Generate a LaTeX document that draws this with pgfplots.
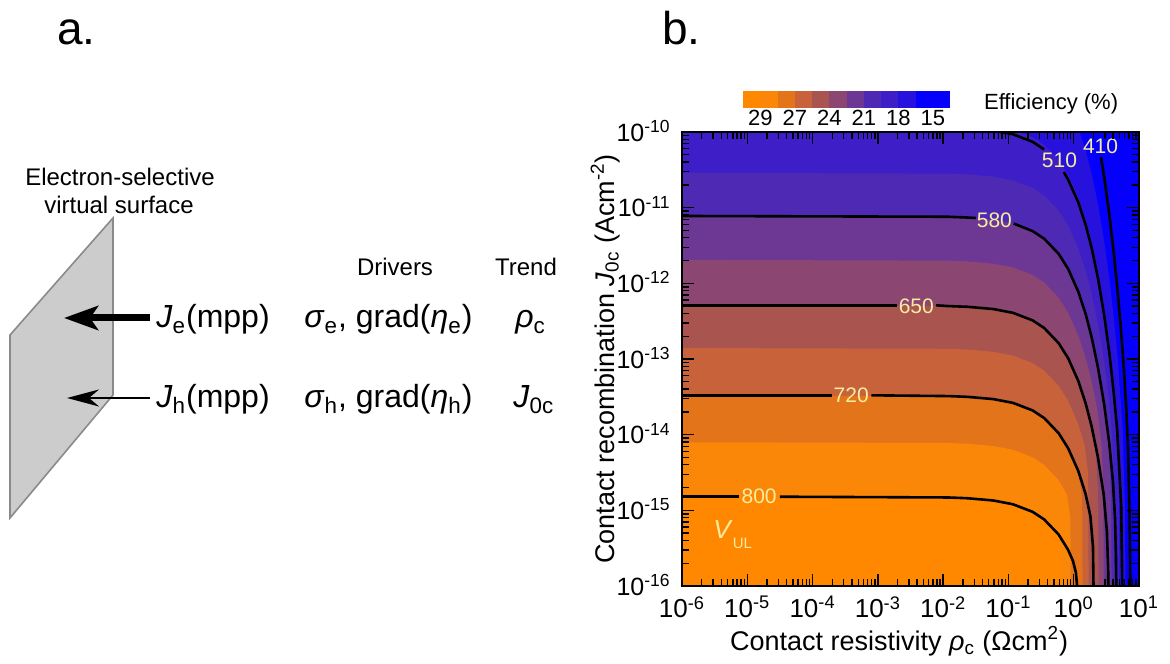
\documentclass[border=0pt]{standalone}
\usepackage{pgfplots}
\pgfplotsset{compat=1.18}
\usepackage{fontspec}
\setmainfont{Liberation Sans}
\usetikzlibrary{arrows.meta}

% efficiency bands, high (orange) to low (blue)
\definecolor{c0}{HTML}{FF8800}
\definecolor{c1}{HTML}{FB8708}
\definecolor{c2}{HTML}{E4741A}
\definecolor{c3}{HTML}{C8623A}
\definecolor{c4}{HTML}{AA544F}
\definecolor{c5}{HTML}{8C4672}
\definecolor{c6}{HTML}{6C3894}
\definecolor{c7}{HTML}{4E2AB4}
\definecolor{c8}{HTML}{3E1EC6}
\definecolor{c9}{HTML}{2612DC}
\definecolor{c10}{HTML}{0400FC}
\definecolor{lbl}{HTML}{F7EDA0}
\definecolor{plate}{HTML}{CCCCCC}
\definecolor{plateedge}{HTML}{8A8A8A}

\newcommand{\fsz}[1]{\fontsize{#1}{#1}\selectfont}

\begin{document}
\begin{tikzpicture}
\useasboundingbox (0,0) rectangle (585pt,331.5pt);

% ---------------- panel b: efficiency map ----------------
\begin{axis}[
  at={(341pt,38.5pt)}, anchor=south west,
  width=228.5pt, height=227pt, scale only axis,
  xmin=-6, xmax=1, ymin=-16, ymax=-10,
  axis on top,
  axis background/.style={fill=c10},
  axis line style={line width=1pt},
  tick align=inside, tick pos=both,
  major tick length=6pt, minor tick length=3.5pt,
  every tick/.style={black, line width=0.7pt},
  xtick={-6,-5,-4,-3,-2,-1,0,1},
  xticklabels={10\textsuperscript{-6},10\textsuperscript{-5},10\textsuperscript{-4},10\textsuperscript{-3},10\textsuperscript{-2},10\textsuperscript{-1},10\textsuperscript{0},10\textsuperscript{1}},
  ytick={-16,-15,-14,-13,-12,-11,-10},
  yticklabels={10\textsuperscript{-16},10\textsuperscript{-15},10\textsuperscript{-14},10\textsuperscript{-13},10\textsuperscript{-12},10\textsuperscript{-11},10\textsuperscript{-10}},
  minor xtick={-5.699,-5.523,-5.398,-5.301,-5.222,-5.155,-5.097,-5.046,
    -4.699,-4.523,-4.398,-4.301,-4.222,-4.155,-4.097,-4.046,
    -3.699,-3.523,-3.398,-3.301,-3.222,-3.155,-3.097,-3.046,
    -2.699,-2.523,-2.398,-2.301,-2.222,-2.155,-2.097,-2.046,
    -1.699,-1.523,-1.398,-1.301,-1.222,-1.155,-1.097,-1.046,
    -0.699,-0.523,-0.398,-0.301,-0.222,-0.155,-0.097,-0.046,
    0.301,0.477,0.602,0.699,0.778,0.845,0.903,0.954},
  minor ytick={-15.699,-15.523,-15.398,-15.301,-15.222,-15.155,-15.097,-15.046,
    -14.699,-14.523,-14.398,-14.301,-14.222,-14.155,-14.097,-14.046,
    -13.699,-13.523,-13.398,-13.301,-13.222,-13.155,-13.097,-13.046,
    -12.699,-12.523,-12.398,-12.301,-12.222,-12.155,-12.097,-12.046,
    -11.699,-11.523,-11.398,-11.301,-11.222,-11.155,-11.097,-11.046,
    -10.699,-10.523,-10.398,-10.301,-10.222,-10.155,-10.097,-10.046},
  xticklabel style={font=\fsz{13pt}, inner sep=0.5pt, yshift=-4.5pt},
  yticklabel style={font=\fsz{12.5pt}, inner sep=0.5pt, xshift=-5pt, yshift=0.5pt},
  xlabel={Contact resistivity \textit{ρ}\textsubscript{c} (Ωcm\textsuperscript{2})},
  ylabel={Contact recombination \textit{J}\textsubscript{0c} (Acm\textsuperscript{-2})},
  label style={font=\fsz{13.5pt}},
  xlabel style={at={(axis description cs:0.475,-0.141)}, anchor=base},
  ylabel style={at={(axis description cs:-0.168,0.5)}, anchor=center},
]
% filled efficiency regions (log10 rho_c, log10 J0c), lowest efficiency first
\addplot[fill=c9, draw=none] coordinates {(-6,-8.95) (-0.93,-9.05) (-0.231,-9.45) (0.07,-9.95) (0.184,-10.25) (0.274,-10.55) (0.371,-10.95) (0.468,-11.45) (0.547,-11.95) (0.613,-12.45) (0.670,-12.95) (0.750,-13.95) (0.783,-14.95) (0.794,-16) (-6,-16)};
\addplot[fill=c8, draw=none] coordinates {(-6,-9.87) (-1.93,-9.88) (-1.629,-9.89) (-1.231,-9.92) (-0.93,-9.97) (-0.629,-10.07) (-0.453,-10.17) (-0.231,-10.37) (-0.085,-10.57) (0.07,-10.87) (0.184,-11.17) (0.274,-11.47) (0.371,-11.87) (0.468,-12.37) (0.546,-12.87) (0.609,-13.37) (0.654,-13.87) (0.693,-14.87) (0.702,-16) (-6,-16)};
\addplot[fill=c7, draw=none] coordinates {(-6,-10.54) (-1.93,-10.55) (-1.629,-10.56) (-1.231,-10.59) (-0.93,-10.64) (-0.629,-10.74) (-0.453,-10.84) (-0.231,-11.04) (-0.085,-11.24) (0.07,-11.54) (0.184,-11.84) (0.274,-12.14) (0.371,-12.54) (0.467,-13.04) (0.541,-13.54) (0.588,-14.04) (0.613,-14.54) (0.624,-15.54) (0.626,-16) (-6,-16)};
\addplot[fill=c6, draw=none] coordinates {(-6,-11.11) (-1.93,-11.12) (-1.629,-11.13) (-1.231,-11.16) (-0.93,-11.21) (-0.629,-11.31) (-0.453,-11.41) (-0.231,-11.61) (-0.085,-11.81) (0.07,-12.11) (0.184,-12.41) (0.274,-12.71) (0.371,-13.11) (0.466,-13.61) (0.530,-14.11) (0.563,-14.61) (0.575,-15.11) (0.580,-16) (-6,-16)};
\addplot[fill=c5, draw=none] coordinates {(-6,-11.69) (-1.93,-11.70) (-1.629,-11.71) (-1.231,-11.74) (-0.93,-11.79) (-0.629,-11.89) (-0.453,-11.99) (-0.231,-12.19) (-0.085,-12.39) (0.07,-12.69) (0.184,-12.99) (0.274,-13.29) (0.366,-13.69) (0.432,-14.19) (0.452,-14.69) (0.456,-15.19) (0.457,-16) (-6,-16)};
\addplot[fill=c4, draw=none] coordinates {(-6,-12.29) (-1.93,-12.30) (-1.629,-12.31) (-1.231,-12.34) (-0.93,-12.39) (-0.629,-12.49) (-0.453,-12.59) (-0.231,-12.79) (-0.085,-12.99) (0.07,-13.29) (0.184,-13.59) (0.272,-13.89) (0.344,-14.29) (0.375,-14.79) (0.379,-15.29) (0.380,-16) (-6,-16)};
\addplot[fill=c3, draw=none] coordinates {(-6,-12.855) (-1.93,-12.865) (-1.629,-12.875) (-1.231,-12.905) (-0.93,-12.955) (-0.629,-13.055) (-0.453,-13.155) (-0.231,-13.355) (-0.085,-13.555) (0.068,-13.855) (0.170,-14.155) (0.214,-14.455) (0.225,-14.855) (0.227,-16) (-6,-16)};
\addplot[fill=c2, draw=none] coordinates {(-6,-13.48) (-1.93,-13.49) (-1.629,-13.50) (-1.231,-13.53) (-0.93,-13.58) (-0.629,-13.68) (-0.453,-13.78) (-0.231,-13.98) (-0.085,-14.18) (0.061,-14.48) (0.123,-14.78) (0.133,-15.08) (0.135,-16) (-6,-16)};
\addplot[fill=c1, draw=none] coordinates {(-6,-14.10) (-1.93,-14.11) (-1.629,-14.12) (-1.231,-14.15) (-0.93,-14.20) (-0.629,-14.30) (-0.453,-14.40) (-0.232,-14.60) (-0.101,-14.80) (-0.052,-15.10) (-0.049,-15.40) (-0.049,-16) (-6,-16)};
\addplot[fill=c0, draw=none] coordinates {(-6,-14.82) (-1.93,-14.83) (-1.629,-14.84) (-1.231,-14.87) (-0.93,-14.92) (-0.629,-15.02) (-0.453,-15.12) (-0.241,-15.32) (-0.177,-15.52) (-0.172,-15.82) (-0.172,-16) (-6,-16)};

% V_UL contour lines (mV), broken where the value is written
\addplot[black, line width=1.3pt] coordinates {(-6,-14.82) (-5.13,-14.82)};
\addplot[black, line width=1.3pt] coordinates {(-4.50,-14.82) (-1.93,-14.83) (-1.629,-14.84) (-1.231,-14.87) (-0.93,-14.92) (-0.629,-15.02) (-0.453,-15.12) (-0.231,-15.32) (-0.087,-15.52) (-0.011,-15.67) (0.033,-15.82) (0.052,-16)};
\addplot[black, line width=1.3pt] coordinates {(-6,-13.48) (-3.70,-13.48)};
\addplot[black, line width=1.3pt] coordinates {(-3.10,-13.48) (-1.93,-13.49) (-1.629,-13.50) (-1.231,-13.53) (-0.93,-13.58) (-0.629,-13.68) (-0.453,-13.78) (-0.231,-13.98) (-0.085,-14.18) (0.07,-14.48) (0.181,-14.78) (0.256,-15.08) (0.295,-15.48) (0.303,-16)};
\addplot[black, line width=1.3pt] coordinates {(-6,-12.29) (-2.71,-12.29)};
\addplot[black, line width=1.3pt] coordinates {(-2.11,-12.29) (-1.93,-12.30) (-1.629,-12.31) (-1.231,-12.34) (-0.93,-12.39) (-0.629,-12.49) (-0.453,-12.59) (-0.231,-12.79) (-0.085,-12.99) (0.07,-13.29) (0.184,-13.59) (0.274,-13.89) (0.369,-14.29) (0.459,-14.79) (0.509,-15.29) (0.528,-15.79) (0.530,-16)};
\addplot[black, line width=1.3pt] coordinates {(-6,-11.11) (-1.93,-11.12) (-1.629,-11.13) (-1.50,-11.137)};
\addplot[black, line width=1.3pt] coordinates {(-0.92,-11.21) (-0.629,-11.31) (-0.453,-11.41) (-0.231,-11.61) (-0.085,-11.81) (0.07,-12.11) (0.184,-12.41) (0.274,-12.71) (0.371,-13.11) (0.468,-13.61) (0.544,-14.11) (0.600,-14.61) (0.633,-15.11) (0.647,-15.61) (0.652,-16)};
\addplot[black, line width=1.3pt] coordinates {(-1.231,-9.98) (-0.93,-10.03) (-0.629,-10.13) (-0.453,-10.23)};
\addplot[black, line width=1.3pt] coordinates {(-0.152,-10.53) (-0.085,-10.63) (0.07,-10.93) (0.184,-11.23) (0.274,-11.53) (0.371,-11.93) (0.468,-12.43) (0.547,-12.93) (0.611,-13.43) (0.665,-13.93) (0.727,-14.93) (0.744,-16)};
\addplot[black, line width=1.3pt] coordinates {(0.418,-10.33) (0.468,-10.6) (0.547,-11.1) (0.614,-11.6) (0.672,-12.1) (0.723,-12.6) (0.766,-13.1) (0.801,-13.6) (0.829,-14.1) (0.857,-15.1) (0.867,-16)};

\begin{scope}[every node/.style={text=lbl, font=\fsz{10.5pt}, inner sep=0pt}]
\node at (axis cs:-4.819,-14.82) {800};
\node at (axis cs:-3.408,-13.48) {720};
\node at (axis cs:-2.411,-12.30) {650};
\node at (axis cs:-1.215,-11.16) {580};
\node at (axis cs:-0.218,-10.38) {510};
\node at (axis cs:0.411,-10.19) {410};
\node[anchor=base west, font=\fsz{13pt}] at (axis cs:-5.525,-15.366) {\textit{V}\raisebox{-5pt}{\fsz{7.5pt}UL}};
\end{scope}
\end{axis}

% ---------------- colour key ----------------
\begin{axis}[
  at={(371.5pt,277.5pt)}, anchor=south west,
  width=103.5pt, height=8.5pt, scale only axis,
  xmin=0, xmax=12, ymin=0, ymax=1,
  axis line style={draw=none},
  ytick=\empty,
  xtick={1,3,5,7,9,11},
  xticklabels={29,27,24,21,18,15},
  major tick length=0pt,
  xticklabel style={font=\fsz{11pt}, inner sep=1pt},
]
\addplot[fill=c0, draw=none] coordinates {(0,0) (1,0) (1,1) (0,1)};
\addplot[fill=c1, draw=none] coordinates {(1,0) (2,0) (2,1) (1,1)};
\addplot[fill=c2, draw=none] coordinates {(2,0) (3,0) (3,1) (2,1)};
\addplot[fill=c3, draw=none] coordinates {(3,0) (4,0) (4,1) (3,1)};
\addplot[fill=c4, draw=none] coordinates {(4,0) (5,0) (5,1) (4,1)};
\addplot[fill=c5, draw=none] coordinates {(5,0) (6,0) (6,1) (5,1)};
\addplot[fill=c6, draw=none] coordinates {(6,0) (7,0) (7,1) (6,1)};
\addplot[fill=c7, draw=none] coordinates {(7,0) (8,0) (8,1) (7,1)};
\addplot[fill=c8, draw=none] coordinates {(8,0) (9,0) (9,1) (8,1)};
\addplot[fill=c9, draw=none] coordinates {(9,0) (10,0) (10,1) (9,1)};
\addplot[fill=c10, draw=none] coordinates {(10,0) (11,0) (11,1) (10,1)};
\addplot[fill=c10, draw=none] coordinates {(11,0) (12,0) (12,1) (11,1)};
\end{axis}

% ---------------- panel a and annotations (pixel grid, y downwards) ----------------
\begin{scope}[x=0.5pt, y=-0.5pt, shift={(0pt,331.5pt)}]
\node[anchor=west, font=\fsz{11pt}] at (977,104) {Efficiency (\%)};
\node[anchor=base west, font=\fsz{23pt}] at (50,45) {a.};
\node[anchor=base west, font=\fsz{23pt}] at (655,45) {b.};

\node[anchor=base, font=\fsz{12pt}] at (120,186) {Electron-selective};
\node[anchor=base, font=\fsz{12pt}] at (119,214) {virtual surface};
\filldraw[fill=plate, draw=plateedge, line width=0.8pt] (113,218) -- (113,395) -- (10,518) -- (10,335) -- cycle;

\draw[line width=3.5pt, -{Stealth[length=17pt, width=12pt, inset=4pt]}] (150,318) -- (64,318);
\draw[line width=0.8pt, -{Stealth[length=16pt, width=8.5pt, inset=5pt]}] (150,398) -- (67,398);

\node[anchor=base, font=\fsz{12pt}] at (395,276) {Drivers};
\node[anchor=base, font=\fsz{12pt}] at (526,276) {Trend};

\begin{scope}[every node/.style={anchor=base west, font=\fsz{16pt}, inner sep=0pt}]
\node at (156,328) {\textit{J}\textsubscript{e}(mpp)};
\node at (304,328) {\textit{σ}\textsubscript{e}, grad(\textit{η}\textsubscript{e})};
\node at (515,328) {\textit{ρ}\textsubscript{c}};
\node at (156,408) {\textit{J}\textsubscript{h}(mpp)};
\node at (304,408) {\textit{σ}\textsubscript{h}, grad(\textit{η}\textsubscript{h})};
\node at (513,408) {\textit{J}\textsubscript{0c}};
\end{scope}
\end{scope}
\end{tikzpicture}
\end{document}
